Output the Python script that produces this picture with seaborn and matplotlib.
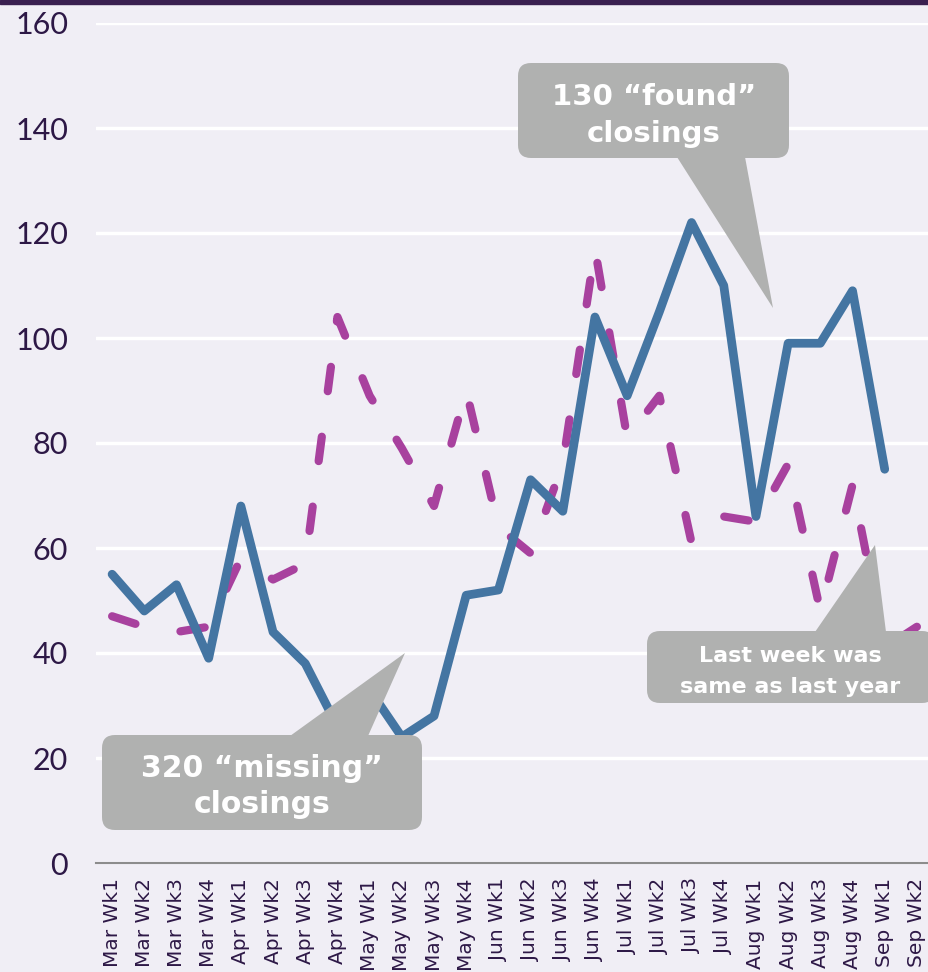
import numpy as np
import pandas as pd
import matplotlib
matplotlib.use("Agg")
import matplotlib.pyplot as plt
import seaborn as sns
from matplotlib.patches import FancyBboxPatch, Polygon, Rectangle
from matplotlib.transforms import IdentityTransform

# ---------------- data ----------------
weeks = ["Mar Wk1", "Mar Wk2", "Mar Wk3", "Mar Wk4",
         "Apr Wk1", "Apr Wk2", "Apr Wk3", "Apr Wk4",
         "May Wk1", "May Wk2", "May Wk3", "May Wk4",
         "Jun Wk1", "Jun Wk2", "Jun Wk3", "Jun Wk4",
         "Jul Wk1", "Jul Wk2", "Jul Wk3", "Jul Wk4",
         "Aug Wk1", "Aug Wk2", "Aug Wk3", "Aug Wk4",
         "Sep Wk1", "Sep Wk2"]
this_year = [55, 48, 53, 39, 68, 44, 38, 26, 33, 24, 28, 51, 52, 73, 67, 104,
             89, 105, 122, 110, 66, 99, 99, 109, 75, np.nan]
last_year = [47, 45, 44, 45, 58, 54, 57, 104, 89, 79, 68, 90, 64, 59, 76, 117,
             81, 89, 61, 66, 65, 76, 48, 72, 41, 45]
y_ticks = [0, 20, 40, 60, 80, 100, 120, 140, 160]

callout_found = ["130 \u201cfound\u201d", "closings"]
callout_missing = ["320 \u201cmissing\u201d", "closings"]
callout_last = ["Last week was", "same as last year"]

# ---------------- style ----------------
sns.set_style("white")
plt.rcParams["font.family"] = ["DejaVu Sans"]

W, H = 929, 972
BG = "#f0eef5"
TXT = "#2d1846"
BLUE = "#4475a2"
MAG = "#a8419e"
GREY = "#b0b1b0"

fig = plt.figure(figsize=(W / 100, H / 100), dpi=100)
fig.patch.set_facecolor(BG)
ax = fig.add_axes([96 / W, 109 / H, 837 / W, 840 / H])
ax.set_facecolor("none")

df = pd.DataFrame({"idx": np.arange(len(weeks)), "week": weeks,
                   "this": this_year, "last": last_year})

sns.lineplot(data=df, x="idx", y="last", ax=ax, estimator=None, sort=False,
             color=MAG, linewidth=5.9, linestyle=(0, (3.0, 5.6)),
             dash_capstyle="round", dash_joinstyle="round", zorder=3)
sns.lineplot(data=df.dropna(subset=["this"]), x="idx", y="this", ax=ax,
             estimator=None, sort=False, color=BLUE, linewidth=6.3,
             solid_capstyle="round", solid_joinstyle="round", zorder=4)

ax.set_xlabel("")
ax.set_ylabel("")
ax.set_xlim(-0.5, len(weeks) - 0.5)
ax.set_ylim(0, 160)

ax.set_yticks(y_ticks)
ax.set_yticklabels([str(v) for v in y_ticks], family=["Lato", "DejaVu Sans"],
                   fontweight="normal")
ax.tick_params(axis="y", length=0, pad=20, labelsize=22, labelcolor=TXT)

ax.set_xticks(np.arange(-0.5, len(weeks), 1))
ax.set_xticklabels([])
ax.tick_params(axis="x", which="major", length=6, width=1.5, color="#8c8c8c")
ax.set_xticks(np.arange(len(weeks)), minor=True)
ax.set_xticklabels(weeks, minor=True, rotation=90, fontsize=14.5, color=TXT)
ax.tick_params(axis="x", which="minor", length=0, pad=11)

ax.grid(axis="y", color="white", linewidth=2.5)
ax.grid(axis="x", visible=False)
ax.set_axisbelow(True)
for s in ["left", "right", "top"]:
    ax.spines[s].set_visible(False)
ax.spines["bottom"].set_color("#8c8c8c")
ax.spines["bottom"].set_linewidth(1.5)

# top bar
fig.add_artist(Rectangle((0, 1 - 4 / H), 1, 4 / H, transform=fig.transFigure,
                         color="#3a2050", zorder=10))

# ---------------- callouts (pixel coords, y from top) ----------------
T = IdentityTransform()


def P(x, y):
    return (x, H - y)


def callout(box, tri, lines, baselines, cx, size):
    x0, y0, x1, y1 = box
    fig.add_artist(FancyBboxPatch(P(x0, y1), x1 - x0, y1 - y0,
                                  boxstyle="round,pad=0,rounding_size=13",
                                  transform=T, facecolor=GREY,
                                  edgecolor="none", zorder=20))
    fig.add_artist(Polygon([P(*p) for p in tri], closed=True, transform=T,
                           facecolor=GREY, edgecolor="none", zorder=20))
    for line, bl in zip(lines, baselines):
        fig.text(cx / W, 1 - bl / H, line, ha="center", va="baseline",
                 color="white", fontsize=size, fontweight="bold", zorder=21)


callout((518, 63, 789, 158), [(677, 157), (745, 157), (773, 308)],
        callout_found, [105, 142], 654, 21)
callout((102, 735, 422, 830), [(290, 736), (368, 736), (405, 653)],
        callout_missing, [777, 813], 262, 21.5)
callout((647, 631, 935, 703), [(815, 632), (886, 632), (875, 545)],
        callout_last, [662, 693], 790, 16)

fig.savefig("out.png", dpi=100, facecolor=BG)
